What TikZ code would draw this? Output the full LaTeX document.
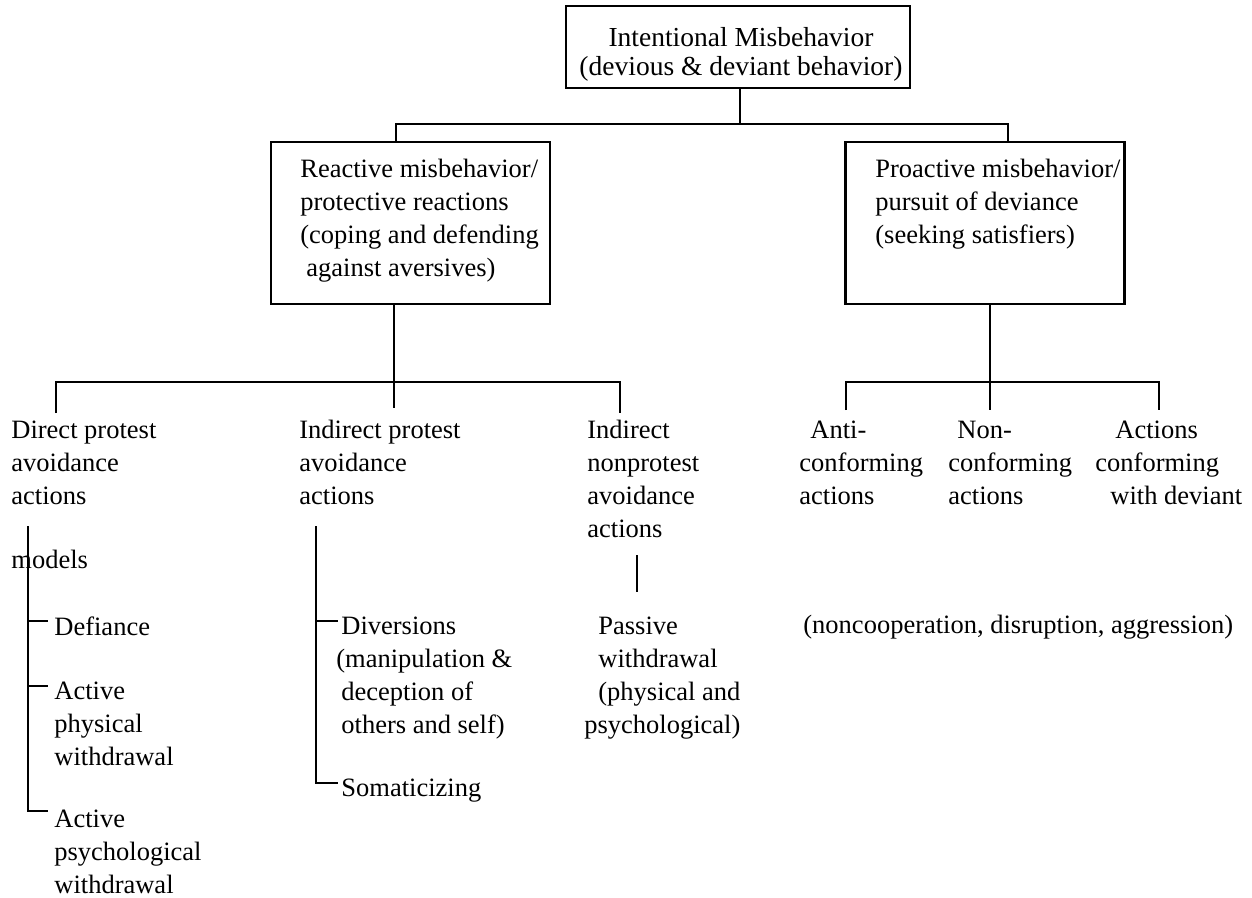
\documentclass[tikz,border=0pt]{standalone}
\usepackage{fontspec}
\setmainfont{Liberation Serif}
\newcommand\bodyfont{\fontsize{13.25}{16.5}\selectfont}
\newcommand\headfont{\fontsize{13.75}{14.5}\selectfont}
\begin{document}
\begin{tikzpicture}[x=0.5pt,y=-0.5pt,
  box/.style={draw, line width=1.1pt, inner sep=0pt},
  txt/.style={anchor=north west, inner sep=0pt, align=left, font=\bodyfont},
  link/.style={line width=1.1pt},
  thinlink/.style={line width=0.8pt}]
\useasboundingbox (0,0) rectangle (1252,898);

% boxes
\node[box, minimum width=172pt, minimum height=41pt] (top) at (738,47) {};
\node[box, minimum width=139.5pt, minimum height=81pt] (lbox) at (410.5,223) {};
\node[box, minimum width=139.5pt, minimum height=81pt] (rbox) at (985,223) {};

% box texts
\node[anchor=north, inner sep=0pt, align=center, font=\headfont] (topText) at (741,25.7)
  {\strut Intentional Misbehavior\\(devious \& deviant behavior)};
\node[txt] (lText) at (300,153.9)
  {\strut Reactive misbehavior/\\protective reactions\\(coping and defending\\\hspace*{3pt}against aversives)};
\node[txt] (rText) at (875,153.9)
  {\strut Proactive misbehavior/\\pursuit of deviance\\(seeking satisfiers)};

% second level
\node[txt] (dpa) at (11,415) {\strut Direct protest\\avoidance\\actions};
\node[txt] (ipa) at (299,415) {\strut Indirect protest\\avoidance\\actions};
\node[txt] (inpa) at (587,415) {\strut Indirect\\nonprotest\\avoidance\\actions};
\node[txt] (anti) at (799,415) {\strut\hspace*{5.5pt}Anti-\\conforming\\actions};
\node[txt] (non) at (948,415) {\strut\hspace*{4.5pt}Non-\\conforming\\actions};
\node[txt] (conf) at (1095,415) {\strut\hspace*{10pt}Actions\\conforming\\\hspace*{7.5pt}with deviant};

% third level
\node[txt] (models) at (11,545) {\strut models};
\node[txt] (defiance) at (54,611.9) {\strut Defiance};
\node[txt] (actPhys) at (54,675.9) {\strut Active\\physical\\withdrawal};
\node[txt] (actPsych) at (54,803.5) {\strut Active\\psychological\\withdrawal};
\node[txt] (divers) at (336,611)
  {\strut\hspace*{2.5pt}Diversions\\(manipulation \&\\\hspace*{2.5pt}deception of\\\hspace*{2.5pt}others and self)};
\node[txt] (somat) at (341,773) {\strut Somaticizing};
\node[txt] (passive) at (584,611)
  {\strut\hspace*{7pt}Passive\\\hspace*{7pt}withdrawal\\\hspace*{7pt}(physical and\\psychological)};
\node[txt] (noncoop) at (803,610) {\strut (noncooperation, disruption, aggression)};

% top level connectors
\coordinate (j0) at (740,124);
\coordinate (j0l) at (396,124);
\coordinate (j0r) at (1008,124);
\draw[link] (top.south -| j0) -- (j0);
\draw[link] (lbox.north -| j0l) -- (j0l) -- (j0r) -- (rbox.north -| j0r);

% reactive branch
\coordinate (j1) at (394,382);
\coordinate (j1l) at (56,382);
\coordinate (j1r) at (620,382);
\draw[link, shorten >=3.5pt] (lbox.south -| j1) -- (j1 |- ipa.north);
\draw[link, shorten <=1pt, shorten >=1pt] (j1l |- dpa.north) -- (j1l) -- (j1r) -- (j1r |- inpa.north);

% proactive branch
\coordinate (j2) at (990,382);
\coordinate (j2l) at (846,382);
\coordinate (j2r) at (1159,382);
\draw[link, shorten >=2.5pt] (rbox.south -| j2) -- (j2 |- non.north);
\draw[link, shorten <=2.5pt, shorten >=2.5pt] (j2l |- anti.north) -- (j2l) -- (j2r) -- (j2r |- conf.north);

% direct protest list
\coordinate (v1) at (28,526);
\coordinate (t1) at (48,621);
\coordinate (t2) at (48,686);
\coordinate (t3) at (48,811);
\draw[link] (v1) |- (t3);
\draw[link] (v1 |- t1) -- (t1);
\draw[link] (v1 |- t2) -- (t2);

% indirect protest list
\coordinate (v2) at (316,526);
\coordinate (t4) at (338,621);
\coordinate (t5) at (338,783);
\draw[thinlink] (v2) |- (t5);
\draw[thinlink] (v2 |- t4) -- (t4);

% indirect nonprotest
\coordinate (v3a) at (637,555);
\coordinate (v3b) at (637,592);
\draw[thinlink] (v3a) -- (v3b);
\end{tikzpicture}
\end{document}
